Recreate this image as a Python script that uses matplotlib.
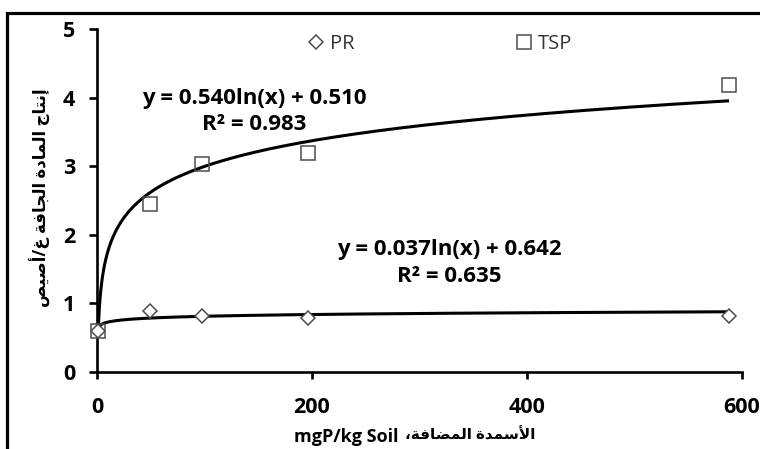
import numpy as np
import matplotlib
matplotlib.use("Agg")
import matplotlib.pyplot as plt
from matplotlib.lines import Line2D
from matplotlib.patches import Rectangle

# ---------------- data ----------------
p_rate = [1, 49, 98, 196, 588]            # mgP/kg soil
pr_yield = [0.60, 0.89, 0.82, 0.79, 0.82]  # PR
tsp_yield = [0.60, 2.45, 3.03, 3.19, 4.19] # TSP
# logarithmic trendlines  y = a ln(x) + b
tsp_fit = (0.540, 0.510)
pr_fit = (0.037, 0.642)
tsp_label = "y = 0.540ln(x) + 0.510"
tsp_r2 = "R\u00b2 = 0.983"
pr_label = "y = 0.037ln(x) + 0.642"
pr_r2 = "R\u00b2 = 0.635"
x_ticks = [0, 200, 400, 600]
y_ticks = [0, 1, 2, 3, 4, 5]
ylabel_ar = "إنتاج المادة الجافة غ/أصيص"
xlabel_ar = "الأسمدة المضافة،"
xlabel_en = "mgP/kg Soil"

# ---------------- minimal Arabic shaping (matplotlib has no bidi/shaping) ----------------
FORMS = {
    '\u0627': ('\uFE8D', '\uFE8E', None, None),
    '\u0623': ('\uFE83', '\uFE84', None, None),
    '\u0625': ('\uFE87', '\uFE88', None, None),
    '\u0629': ('\uFE93', '\uFE94', None, None),
    '\u062F': ('\uFEA9', '\uFEAA', None, None),
    '\u062A': ('\uFE95', '\uFE96', '\uFE97', '\uFE98'),
    '\u062C': ('\uFE9D', '\uFE9E', '\uFE9F', '\uFEA0'),
    '\u0633': ('\uFEB1', '\uFEB2', '\uFEB3', '\uFEB4'),
    '\u0635': ('\uFEB9', '\uFEBA', '\uFEBB', '\uFEBC'),
    '\u0636': ('\uFEBD', '\uFEBE', '\uFEBF', '\uFEC0'),
    '\u063A': ('\uFECD', '\uFECE', '\uFECF', '\uFED0'),
    '\u0641': ('\uFED1', '\uFED2', '\uFED3', '\uFED4'),
    '\u0644': ('\uFEDD', '\uFEDE', '\uFEDF', '\uFEE0'),
    '\u0645': ('\uFEE1', '\uFEE2', '\uFEE3', '\uFEE4'),
    '\u0646': ('\uFEE5', '\uFEE6', '\uFEE7', '\uFEE8'),
    '\u064A': ('\uFEF1', '\uFEF2', '\uFEF3', '\uFEF4'),
}
LAMALEF = {'\u0627': ('\uFEFB', '\uFEFC'), '\u0623': ('\uFEF7', '\uFEF8'),
           '\u0625': ('\uFEF9', '\uFEFA')}


def shape_rtl(text):
    units = []
    i = 0
    while i < len(text):
        c = text[i]
        if c == '\u0644' and i + 1 < len(text) and text[i + 1] in LAMALEF:
            units.append(('LA', text[i + 1]))
            i += 2
        else:
            units.append(('C', c))
            i += 1

    def is_letter(u):
        return u[0] == 'LA' or u[1] in FORMS

    def dual(u):
        return u[0] == 'C' and u[1] in FORMS and FORMS[u[1]][2] is not None

    out = []
    for k, u in enumerate(units):
        if not is_letter(u):
            out.append(u[1])
            continue
        jp = k > 0 and dual(units[k - 1])
        jn = dual(u) and k + 1 < len(units) and is_letter(units[k + 1])
        if u[0] == 'LA':
            out.append(LAMALEF[u[1]][1 if jp else 0])
            continue
        f = FORMS[u[1]]
        if jp and jn:
            out.append(f[3])
        elif jp:
            out.append(f[1])
        elif jn:
            out.append(f[2])
        else:
            out.append(f[0])
    return ''.join(reversed(out))


# ---------------- figure ----------------
W, H = 760, 449
fig = plt.figure(figsize=(W / 100, H / 100), dpi=100)
fig.patch.set_facecolor('white')

L, R, T, B = 97, 742, 29, 372
ax = fig.add_axes([L / W, 1 - B / H, (R - L) / W, (B - T) / H])

fam = ['Open Sans', 'DejaVu Sans']

# trendlines
xs = np.geomspace(1, max(p_rate), 400)
ax.plot(xs, tsp_fit[0] * np.log(xs) + tsp_fit[1], color='black', lw=2.2, zorder=2,
        solid_capstyle='butt')
ax.plot(xs, pr_fit[0] * np.log(xs) + pr_fit[1], color='black', lw=2.2, zorder=2,
        solid_capstyle='butt')

# points
mec = '#4d4d4d'
ax.plot(p_rate, pr_yield, linestyle='none', marker='D', ms=7.5, mfc='white',
        mec=mec, mew=1.1, zorder=3, clip_on=False)
ax.plot(p_rate, tsp_yield, linestyle='none', marker='s', ms=10.5, mfc='none',
        mec=mec, mew=1.1, zorder=4, clip_on=False)

ax.set_xlim(0, 600)
ax.set_ylim(0, 5)
ax.set_xticks(x_ticks)
ax.set_yticks(y_ticks)
for s in ['top', 'right']:
    ax.spines[s].set_visible(False)
for s in ['left', 'bottom']:
    ax.spines[s].set_linewidth(1.9)
ax.tick_params(axis='y', direction='out', length=5.5, width=1.9, pad=10)
ax.tick_params(axis='x', direction='out', length=5, width=1.9, pad=13)
for lab in ax.get_xticklabels() + ax.get_yticklabels():
    lab.set_fontfamily(fam)
    lab.set_fontweight('bold')
    lab.set_fontsize(15.5)

# equations
eq_kw = dict(ha='center', va='center', fontsize=16, fontweight='bold', family=fam)
ax.text(146, 3.99, tsp_label, **eq_kw)
ax.text(146, 3.61, tsp_r2, **eq_kw)
ax.text(328, 1.78, pr_label, **eq_kw)
ax.text(328, 1.39, pr_r2, **eq_kw)

# legend
handles = [Line2D([], [], linestyle='none', marker='D', ms=7, mfc='white', mec=mec, mew=1.1),
           Line2D([], [], linestyle='none', marker='s', ms=10, mfc='white', mec=mec, mew=1.1)]
leg = ax.legend(handles, ['PR', 'TSP'], ncol=2, frameon=False,
                loc='center left', bbox_to_anchor=(308 / W, 1 - 44 / H),
                bbox_transform=fig.transFigure, borderpad=0, borderaxespad=0,
                handlelength=0.8, handletextpad=0.3, columnspacing=8.0,
                prop={'family': fam, 'size': 14.5})
for t in leg.get_texts():
    t.set_color('#333333')

# axis labels (RTL text shaped manually)
fig.text(40 / W, 1 - 198 / H, shape_rtl(ylabel_ar), rotation=90, ha='center',
         va='center', fontsize=12, fontweight='bold', family=fam)
fig.text(398 / W, 1 - 437 / H, xlabel_en, ha='right', va='center', fontsize=13,
         fontweight='bold', family=fam)
fig.text(405 / W, 1 - 435 / H, shape_rtl(xlabel_ar), ha='left', va='center',
         fontsize=11, fontweight='bold', family=fam)

# outer frame (extends past right / bottom edge)
fig.patches.append(Rectangle((7 / W, -0.2), 1.5, 1.2 - 12.5 / H, transform=fig.transFigure,
                             fill=False, lw=2.3, edgecolor='black'))

fig.savefig('out.png', dpi=100, facecolor='white')
